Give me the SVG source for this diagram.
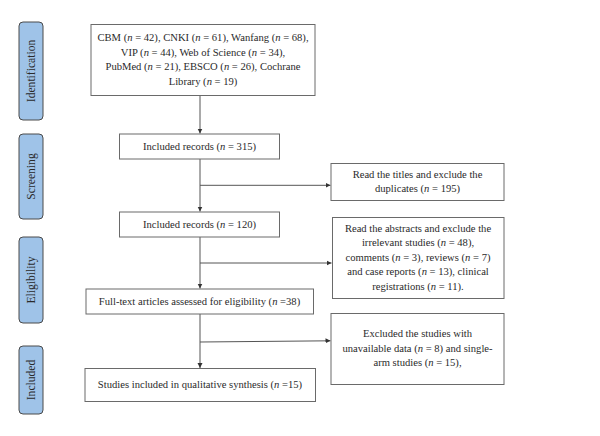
<svg xmlns="http://www.w3.org/2000/svg" width="600" height="436" viewBox="0 0 600 436">
<defs>
<marker id="ah" markerWidth="6" markerHeight="6" refX="5" refY="3" orient="auto" markerUnits="userSpaceOnUse">
<path d="M0,0.5 L5,3 L0,5.5 Z" fill="#333"/>
</marker>
<style>
.box{fill:#fff;stroke:#6a6a6a;stroke-width:1}
.side{fill:#9fc3e8;stroke:#4a4a4a;stroke-width:1}
text{font-family:"Liberation Serif","Times New Roman",serif;font-size:10.6px;fill:#2a2a2a;text-anchor:middle}
.st{font-size:11.6px}
.ln{stroke:#555;stroke-width:1;fill:none}
</style>
</defs>
<rect width="600" height="436" fill="#fff"/>
<g id="phase-identification">
<rect class="side" x="19" y="22" width="24" height="98" rx="4"/>
<text class="st" transform="translate(34.8,71) rotate(-90)">Identification</text>
</g>
<g id="phase-screening">
<rect class="side" x="19" y="134" width="24" height="85" rx="4"/>
<text class="st" transform="translate(34.8,176.5) rotate(-90)">Screening</text>
</g>
<g id="phase-eligibility">
<rect class="side" x="19" y="237" width="24" height="86" rx="4"/>
<text class="st" transform="translate(34.8,280) rotate(-90)">Eligibility</text>
</g>
<g id="phase-included">
<rect class="side" x="19" y="346" width="24" height="68" rx="4"/>
<text class="st" transform="translate(34.8,380) rotate(-90)">Included</text>
</g>
<g id="connectors">
<line class="ln" x1="200" y1="95.5" x2="200" y2="133.5" marker-end="url(#ah)"/>
<line class="ln" x1="200" y1="159" x2="200" y2="211.5" marker-end="url(#ah)"/>
<line class="ln" x1="200" y1="185.3" x2="330.5" y2="185.3" marker-end="url(#ah)"/>
<line class="ln" x1="200" y1="237" x2="200" y2="288.5" marker-end="url(#ah)"/>
<line class="ln" x1="200" y1="263" x2="331.5" y2="263" marker-end="url(#ah)"/>
<line class="ln" x1="200" y1="314" x2="200" y2="368" marker-end="url(#ah)"/>
<line class="ln" x1="200" y1="342" x2="330.5" y2="340.8" marker-end="url(#ah)"/>
</g>
<g id="node-databases">
<rect class="box" x="91" y="24.5" width="224" height="71"/>
<text x="203" y="41">CBM (<tspan font-style="italic">n</tspan> = 42), CNKI (<tspan font-style="italic">n</tspan> = 61), Wanfang (<tspan font-style="italic">n</tspan> = 68),</text>
<text x="203" y="55.5">VIP (<tspan font-style="italic">n</tspan> = 44), Web of Science (<tspan font-style="italic">n</tspan> = 34),</text>
<text x="203" y="70">PubMed (<tspan font-style="italic">n</tspan> = 21), EBSCO (<tspan font-style="italic">n</tspan> = 26), Cochrane</text>
<text x="203" y="84.5">Library (<tspan font-style="italic">n</tspan> = 19)</text>
</g>
<g id="node-included-315">
<rect class="box" x="119.5" y="134" width="160" height="25"/>
<text x="199.5" y="150">Included records (<tspan font-style="italic">n</tspan> = 315)</text>
</g>
<g id="node-titles">
<rect class="box" x="331" y="163.5" width="173" height="37"/>
<text x="417.5" y="177.5">Read the titles and exclude the</text>
<text x="417.5" y="192">duplicates (<tspan font-style="italic">n</tspan> = 195)</text>
</g>
<g id="node-included-120">
<rect class="box" x="119.5" y="212" width="160" height="25"/>
<text x="199.5" y="228">Included records (<tspan font-style="italic">n</tspan> = 120)</text>
</g>
<g id="node-abstracts">
<rect class="box" x="332.5" y="217.5" width="171.5" height="81"/>
<text x="418" y="231.5">Read the abstracts and exclude the</text>
<text x="418" y="246">irrelevant studies (<tspan font-style="italic">n</tspan> = 48),</text>
<text x="418" y="260.5">comments (<tspan font-style="italic">n</tspan> = 3), reviews (<tspan font-style="italic">n</tspan> = 7)</text>
<text x="418" y="275">and case reports (<tspan font-style="italic">n</tspan> = 13), clinical</text>
<text x="418" y="289.5">registrations (<tspan font-style="italic">n</tspan> = 11).</text>
</g>
<g id="node-fulltext">
<rect class="box" x="86" y="289" width="227.5" height="25"/>
<text x="199.5" y="304.5">Full-text articles assessed for eligibility (<tspan font-style="italic">n</tspan> =38)</text>
</g>
<g id="node-excluded">
<rect class="box" x="331" y="313.5" width="173" height="71"/>
<text x="417.5" y="337">Excluded the studies with</text>
<text x="417.5" y="351.5">unavailable data (<tspan font-style="italic">n</tspan> = 8) and single-</text>
<text x="417.5" y="366">arm studies (<tspan font-style="italic">n</tspan> = 15),</text>
</g>
<g id="node-studies">
<rect class="box" x="85" y="368.5" width="230.5" height="33"/>
<text x="200" y="388">Studies included in qualitative synthesis (<tspan font-style="italic">n</tspan> =15)</text>
</g>
</svg>
